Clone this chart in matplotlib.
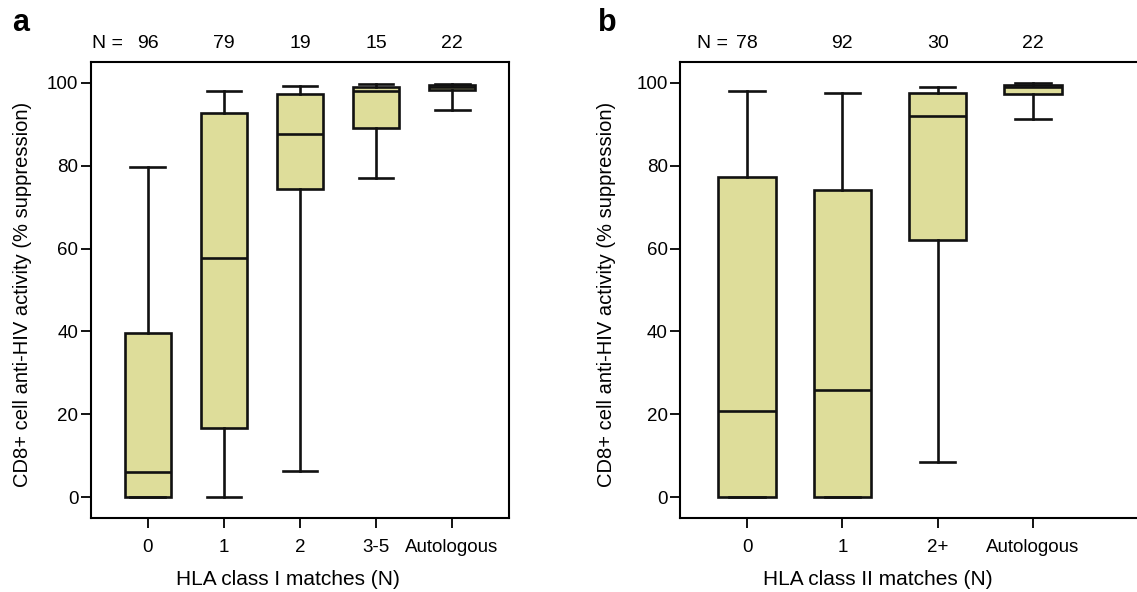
import matplotlib.pyplot as plt
import matplotlib.transforms as mtransforms

plt.rcParams['font.family'] = ['Liberation Sans', 'DejaVu Sans']

FILL = '#dedd9a'

# panel a: HLA class I matches
labels_a = ['0', '1', '2', '3-5', 'Autologous']
n_a = [96, 79, 19, 15, 22]
whislo_a = [0, 0, 6.3, 77.0, 93.4]
q1_a = [0, 16.6, 74.4, 89.0, 98.3]
med_a = [6.0, 57.8, 87.7, 98.1, 99.0]
q3_a = [39.7, 92.6, 97.3, 99.0, 99.4]
whishi_a = [79.6, 98.1, 99.3, 99.7, 99.8]

# panel b: HLA class II matches
labels_b = ['0', '1', '2+', 'Autologous']
n_b = [78, 92, 30, 22]
whislo_b = [0, 0, 8.5, 91.3]
q1_b = [0, 0, 62.0, 97.3]
med_b = [20.9, 25.8, 92.0, 99.0]
q3_b = [77.2, 74.2, 97.5, 99.5]
whishi_b = [98.1, 97.5, 99.0, 99.9]


def make_stats(labels, whislo, q1, med, q3, whishi):
    stats = []
    for i in range(len(labels)):
        stats.append({'label': labels[i], 'whislo': whislo[i], 'q1': q1[i],
                      'med': med[i], 'q3': q3[i], 'whishi': whishi[i], 'fliers': []})
    return stats


def draw_panel(ax, labels, counts, stats, capw, xlim, xlabel, xlabel_x, n_gap):
    lw = 1.9
    ax.bxp(stats, positions=range(len(labels)), widths=0.6, capwidths=capw,
           patch_artist=True, showfliers=False,
           boxprops=dict(facecolor=FILL, edgecolor='#111111', linewidth=lw),
           medianprops=dict(color='#111111', linewidth=lw),
           whiskerprops=dict(color='#111111', linewidth=lw),
           capprops=dict(color='#111111', linewidth=lw))
    ax.set_xlim(*xlim)
    ax.set_ylim(-5, 105)
    ax.set_yticks([0, 20, 40, 60, 80, 100])
    ax.set_xticks(range(len(labels)))
    ax.set_xticklabels(labels)
    ax.tick_params(direction='out', length=7, width=1.3, labelsize=13.5)
    ax.tick_params(axis='x', pad=8)
    ax.tick_params(axis='y', pad=2)
    for s in ax.spines.values():
        s.set_linewidth(1.5)
    ax.set_xlabel(xlabel, fontsize=15, labelpad=10, x=xlabel_x)
    ax.set_ylabel('CD8+ cell anti-HIV activity (% suppression)', fontsize=14.5)
    ax.yaxis.set_label_coords(-0.14, 0.49)
    trans = mtransforms.blended_transform_factory(ax.transData, ax.transAxes)
    trans = mtransforms.offset_copy(trans, fig=ax.figure, y=13, units='points')
    for i, n in enumerate(counts):
        ax.text(i, 1.0, str(n), transform=trans, ha='center', va='center', fontsize=14)
    ntrans = mtransforms.offset_copy(trans, fig=ax.figure, x=-n_gap, units='points')
    ax.text(0, 1.0, 'N =', transform=ntrans, ha='right', va='center', fontsize=14)


fig = plt.figure(figsize=(11.37, 5.92), dpi=100)
ax1 = fig.add_axes([0.0800, 0.125, 0.3677, 0.7703])
ax2 = fig.add_axes([0.5983, 0.125, 0.4017, 0.7703])

draw_panel(ax1, labels_a, n_a, make_stats(labels_a, whislo_a, q1_a, med_a, q3_a, whishi_a),
           0.46, (-0.75, 4.75), 'HLA class I matches (N)', 0.47, 18)
draw_panel(ax2, labels_b, n_b, make_stats(labels_b, whislo_b, q1_b, med_b, q3_b, whishi_b),
           0.37, (-0.7, 4.09), 'HLA class II matches (N)', 0.432, 14)
ax2.spines['right'].set_visible(False)

fig.text(12 / 1137, 1 - 23 / 592, 'a', fontsize=22, fontweight='bold', ha='left', va='center')
fig.text(598 / 1137, 1 - 23 / 592, 'b', fontsize=22, fontweight='bold', ha='left', va='center')

fig.savefig('out.png', dpi=100)
